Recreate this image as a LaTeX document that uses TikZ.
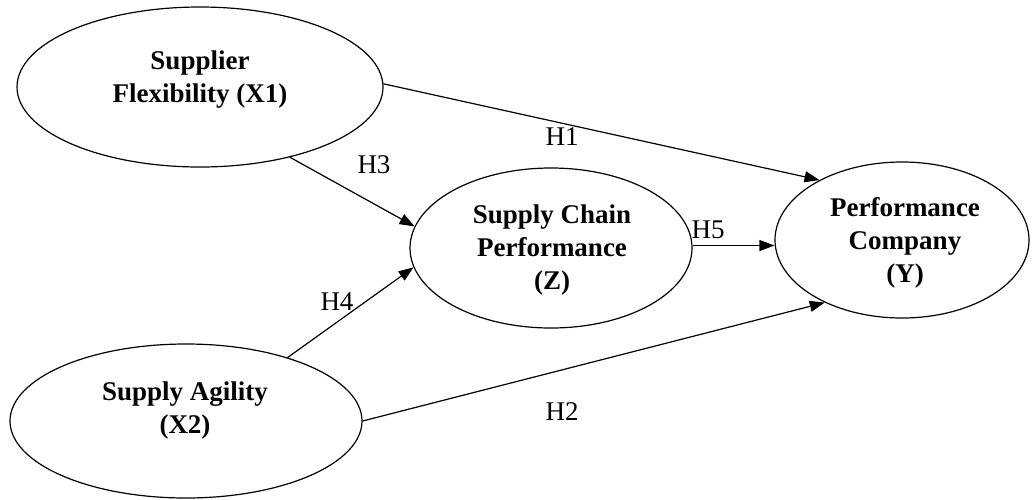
\documentclass[tikz,border=0pt]{standalone}
\usepackage{fontspec}
\setmainfont{Liberation Serif}
\usetikzlibrary{shapes.geometric,arrows.meta}
\begin{document}
\begin{tikzpicture}[x=1pt,y=-1pt,
  construct/.style={draw, ellipse, line width=1.2pt, inner sep=0pt},
  ctext/.style={font=\fontsize{27}{33}\selectfont\bfseries, align=center, inner sep=0pt},
  hyp/.style={font=\fontsize{27}{33}\selectfont, inner sep=0pt},
  path/.style={line width=1.2pt, -{Triangle[length=15pt,width=11pt]}}]
\useasboundingbox (0,0) rectangle (1033,499);
% constructs
\node[construct, minimum width=366pt, minimum height=160pt] (x1) at (200,87) {};
\node[construct, minimum width=282pt, minimum height=160pt] (z) at (551,248) {};
\node[construct, minimum width=254pt, minimum height=156pt] (y) at (902,240) {};
\node[construct, minimum width=352pt, minimum height=154pt] (x2) at (186,421) {};
% texts
\node[ctext] (tx1) at (200,80) {Supplier\\Flexibility (X1)};
\node[ctext] (tz) at (552,250) {Supply Chain\\Performance\\(Z)};
\node[ctext] (ty) at (905,243) {Performance\\Company\\(Y)};
\node[ctext] (tx2) at (185,410) {Supply Agility\\(X2)};
% paths
\draw[path] (x1.1) -- (y.144);
\draw[path] (x1.-38) -- (z.171);
\draw[path] (x2.32) -- (z.-172);
\draw[path] (z.1) -- (z.1 -| y.west);
\draw[path] (x2.0) -- (y.-141);
% hypothesis labels
\node[hyp] (h1) at (562,137) {H1};
\node[hyp] (h2) at (562,412) {H2};
\node[hyp] (h3) at (374,165) {H3};
\node[hyp] (h4) at (337,302) {H4};
\node[hyp] (h5) at (708,230) {H5};
\end{tikzpicture}
\end{document}
